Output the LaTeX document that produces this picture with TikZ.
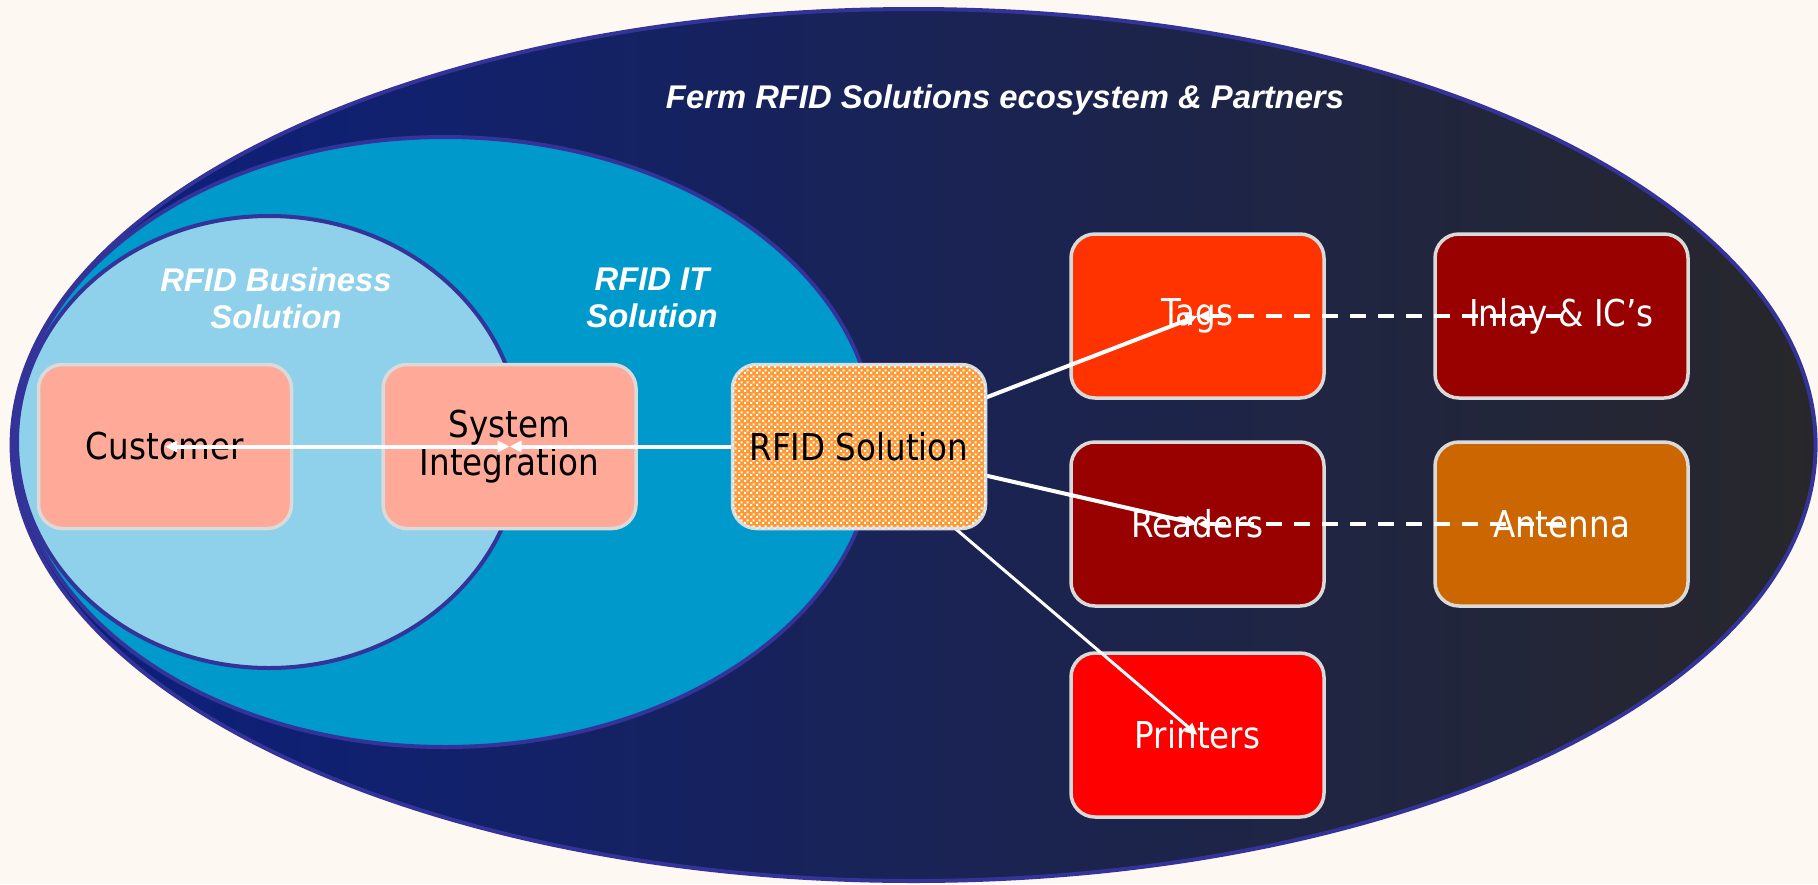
\documentclass[tikz,border=0pt]{standalone}
\usepackage{fontspec}
\setmainfont{DejaVu Sans}[FakeStretch=0.88]
\newfontfamily\titlefont{Liberation Sans}
\usetikzlibrary{arrows.meta,patterns.meta}

\definecolor{bgcream}{HTML}{FDF8F2}
\definecolor{rimblue}{HTML}{333399}
\definecolor{deepblue}{HTML}{0B1F80}
\definecolor{charcoal}{HTML}{27272B}
\definecolor{itblue}{HTML}{0099CC}
\definecolor{bizblue}{HTML}{8FD0EA}
\definecolor{salmon}{HTML}{FFAA99}
\definecolor{boxrim}{HTML}{DADADA}
\definecolor{tagred}{HTML}{FF3300}
\definecolor{darkmaroon}{HTML}{990000}
\definecolor{amber}{HTML}{CC6600}
\definecolor{brightred}{HTML}{FF0000}
\definecolor{solorange}{HTML}{FF9933}

% small white check pattern laid over the orange box
\tikzdeclarepattern{
  name=smallchecks,
  type=uncolored,
  bounding box={(0pt,0pt) and (6pt,6pt)},
  tile size={(6pt,6pt)},
  code={
    \fill (0pt,0pt) rectangle (2.4pt,2.4pt);
    \fill (3pt,3pt) rectangle (5.4pt,5.4pt);
  }
}

\tikzset{
  rim/.style={draw=rimblue, line width=4pt},
  card/.style={draw=boxrim, line width=3.5pt, rounded corners=24pt,
    minimum width=253pt, minimum height=164pt, inner sep=0pt,
    align=center, font=\fontsize{37}{38}\selectfont},
  darkcard/.style={card, text=black},
  lightcard/.style={card, text=white},
  zonelabel/.style={text=white, align=center,
    font=\titlefont\bfseries\itshape\fontsize{32.8}{37}\selectfont},
  link/.style={draw=white, line width=4pt},
  thinlink/.style={draw=white, line width=3pt},
  dashlink/.style={draw=white, line width=4pt, dash pattern=on 16pt off 12pt},
  tip/.style={-{Triangle[length=12pt,width=11pt]}},
  bothtips/.style={{Triangle[length=12pt,width=11pt]}-{Triangle[length=12pt,width=11pt]}}
}

\begin{document}
\begin{tikzpicture}[x=1pt,y=-1pt]
  % page and background
  \useasboundingbox (0,0) rectangle (1818,884);
  \fill[bgcream] (0,0) rectangle (1818,884);

  % nested zones
  \path[rim, left color=deepblue, right color=charcoal]
    (913.6,445) ellipse [x radius=902pt, y radius=436pt];
  \path[rim, fill=itblue] (445,442) ellipse [x radius=430pt, y radius=305pt];
  \path[rim, fill=bizblue] (269,442) ellipse [x radius=252pt, y radius=226pt];

  % zone titles
  \node[zonelabel] (title) at (1005,100) {Ferm RFID Solutions ecosystem \& Partners};
  \node[zonelabel] (bizlabel) at (276,298) {RFID Business\\Solution};
  \node[zonelabel] (itlabel) at (652,298) {RFID IT\\Solution};

  % building blocks
  \node[darkcard, fill=salmon] (cust) at (165,446.5) {Customer};
  \node[darkcard, fill=salmon] (si) at (509.5,446.5) {System\\Integration};
  \node[lightcard, fill=tagred] (tags) at (1197.5,316) {Tags};
  \node[lightcard, fill=darkmaroon] (inlay) at (1561.5,316) {Inlay \& IC’s};
  \node[lightcard, fill=darkmaroon] (readers) at (1197.5,524) {Readers};
  \node[lightcard, fill=amber] (antenna) at (1561.5,524) {Antenna};
  \node[lightcard, fill=brightred] (printers) at (1197.5,735) {Printers};

  % connectors (the solution block is placed on top of their roots)
  \coordinate (rfidhub) at (859,446.5);
  \draw[link, bothtips] (cust.center) -- (si.center);
  \draw[link, tip] (rfidhub) -- (si.center);
  \draw[link, tip] (rfidhub) -- (tags.center);
  \draw[link, tip] (rfidhub) -- (readers.center);
  \draw[thinlink, tip] (rfidhub) -- (printers.center);
  \draw[dashlink, tip] (inlay.center) -- (tags.center);
  \draw[dashlink, tip] (antenna.center) -- (readers.center);

  % central solution block
  \node[darkcard, fill=solorange,
    postaction={pattern=smallchecks, pattern color=white}] (rfid) at (rfidhub) {RFID Solution};
\end{tikzpicture}
\end{document}
